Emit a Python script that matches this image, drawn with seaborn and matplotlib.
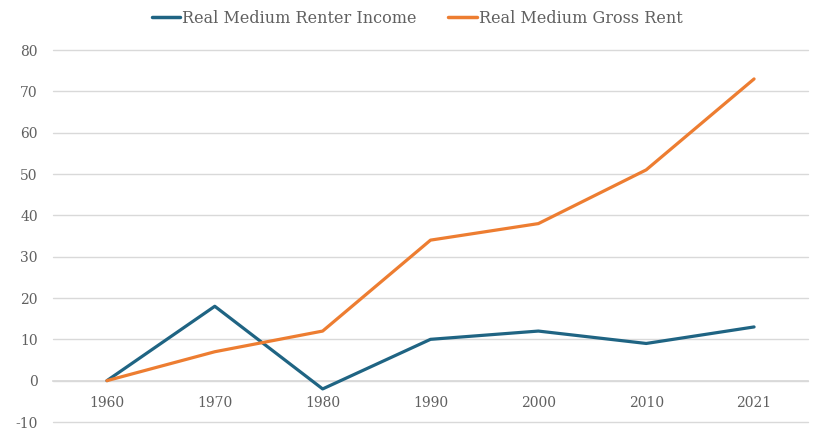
import matplotlib
matplotlib.use("Agg")
import matplotlib.pyplot as plt
import seaborn as sns
import pandas as pd

years = ["1960", "1970", "1980", "1990", "2000", "2010", "2021"]
income = [0, 18, -2, 10, 12, 9, 13]
rent = [0, 7, 12, 34, 38, 51, 73]
series_names = ["Real Medium Renter Income", "Real Medium Gross Rent"]
colors = ["#1F6483", "#ED7D31"]

sns.set_theme(style="white")
plt.rcParams['font.family'] = ['DejaVu Serif', 'Liberation Serif']
plt.rcParams['axes.unicode_minus'] = False

df = pd.DataFrame({
    "pos": list(range(len(years))) * 2,
    "value": income + rent,
    "series": [series_names[0]] * len(years) + [series_names[1]] * len(years),
})

fig = plt.figure(figsize=(8.21, 4.36), dpi=100)
ax = fig.add_axes([53/821, 1 - 422/436, (808-53)/821, (422-50)/436])

sns.lineplot(data=df, x="pos", y="value", hue="series", palette=colors,
             linewidth=2.3, ax=ax, legend=False, zorder=3)

ax.set_xlim(-0.5, len(years) - 0.5)
ax.set_ylim(-10, 80)
ax.set_yticks(range(-10, 81, 10))
ax.set_xticks(range(len(years)))
ax.set_xticklabels(years)
ax.grid(axis="y", color="#D9D9D9", linewidth=1.0)
for gl in ax.get_ygridlines():
    gl.set_clip_on(False)
ax.set_axisbelow(True)
for s in ["top", "right", "left"]:
    ax.spines[s].set_visible(False)
ax.spines["bottom"].set_position(("data", 0))
ax.spines["bottom"].set_color("#D9D9D9")
ax.tick_params(axis="both", length=0, labelsize=10, colors="#606060")
ax.tick_params(axis="x", pad=11)
ax.tick_params(axis="y", pad=11)
ax.set_xlabel("")
ax.set_ylabel("")

from matplotlib.lines import Line2D
handles = [Line2D([0], [0], color=c, lw=2.5) for c in colors]
fig.legend(handles, series_names, loc="center", bbox_to_anchor=(0.508, 0.958),
           ncol=2, frameon=False, fontsize=11.5, labelcolor="#606060",
           handlelength=1.8, handletextpad=0.1, columnspacing=2.0)

fig.savefig("out.png", dpi=100)
